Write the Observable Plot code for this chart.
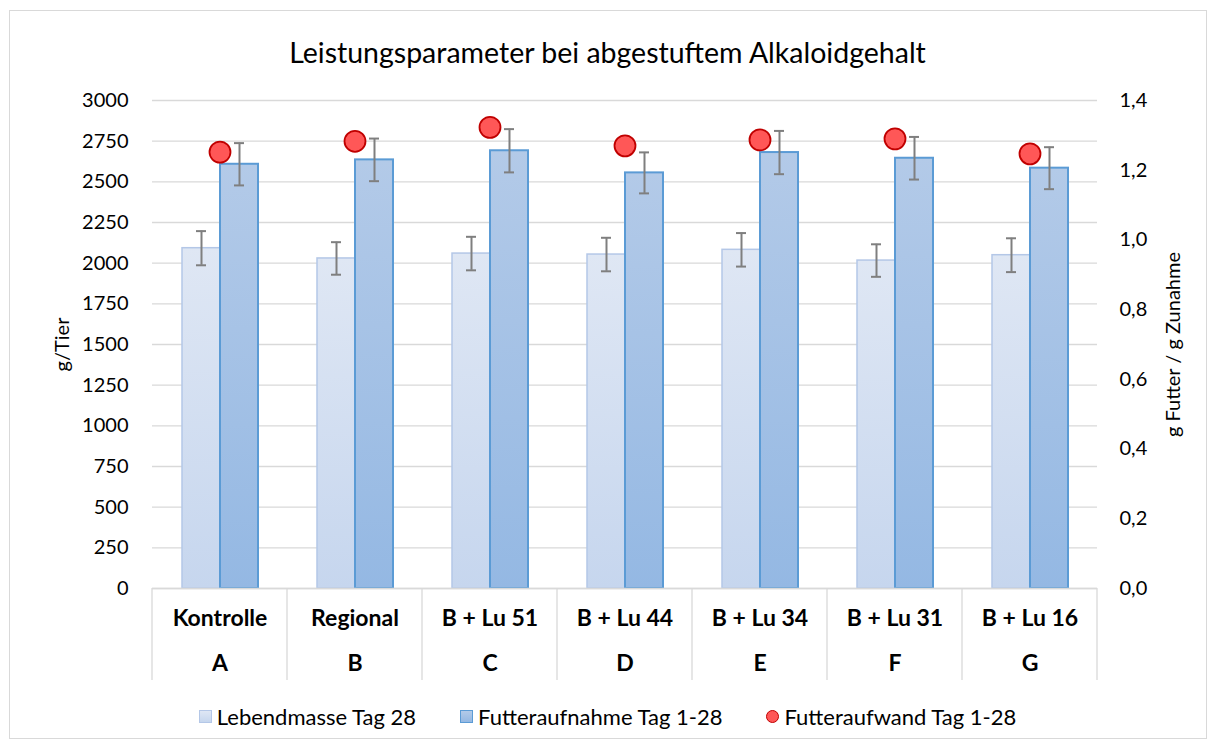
<!DOCTYPE html>
<html><head><meta charset="utf-8">
<script src="https://cdn.jsdelivr.net/npm/d3@7"></script>
<script src="https://cdn.jsdelivr.net/npm/@observablehq/plot@0.6"></script>
<style>
body{margin:0;background:#fff;font-family:Lato,"Noto Sans",sans-serif;color:#000;}
#chart{position:relative;width:1215px;height:747px;overflow:hidden;}
#border{position:absolute;left:9px;top:10px;width:1198px;height:729px;border:1px solid #d9d9d9;box-sizing:border-box;}
#title{position:absolute;left:0;width:1215px;top:35px;text-align:center;font-size:28.5px;line-height:34px;}
#plot{position:absolute;left:0;top:80px;}
#legend{position:absolute;left:0;width:1215px;top:702px;height:28px;display:flex;justify-content:center;align-items:center;gap:44px;font-size:22px;}
.item{display:flex;align-items:center;}
.sw{width:13px;height:13px;margin-right:5px;box-sizing:border-box;}
</style></head>
<body>
<svg width="0" height="0" style="position:absolute">
  <defs>
    <linearGradient id="gradL" x1="0" y1="0" x2="0" y2="1">
      <stop offset="0" stop-color="#dfe7f4"/><stop offset="1" stop-color="#c6d6ee"/>
    </linearGradient>
    <linearGradient id="gradF" x1="0" y1="0" x2="0" y2="1">
      <stop offset="0" stop-color="#b3cae8"/><stop offset="1" stop-color="#94b8e3"/>
    </linearGradient>
  </defs>
</svg>
<div id="chart">
  <div id="border"></div>
  <div id="title">Leistungsparameter bei abgestuftem Alkaloidgehalt</div>
  <div id="plot"></div>
  <div id="legend"></div>
</div>
<script>
const categories = ["Kontrolle","Regional","B + Lu 51","B + Lu 44","B + Lu 34","B + Lu 31","B + Lu 16"];
const groups = ["A","B","C","D","E","F","G"];
const seriesNames = ["Lebendmasse Tag 28","Futteraufnahme Tag 1-28","Futteraufwand Tag 1-28"];
const lebendmasse = [2092, 2029, 2059, 2053, 2082, 2016, 2049];
const lebendmasseErr = [105, 100, 103, 103, 103, 100, 104];
const futteraufnahme = [2608, 2635, 2691, 2555, 2680, 2645, 2584];
const futteraufnahmeErr = [130, 131, 133, 126, 133, 131, 129];
const futteraufwand = [1.252, 1.283, 1.323, 1.270, 1.287, 1.290, 1.247];
const leftTicks = [0, 250, 500, 750, 1000, 1250, 1500, 1750, 2000, 2250, 2500, 2750, 3000];
const rightTicks = [0, 0.2, 0.4, 0.6, 0.8, 1.0, 1.2, 1.4];
const leftMax = 3000, rightMax = 1.4;
const k = leftMax / rightMax;

const bars = categories.flatMap((c, i) => [
  {cat: c, s: "L", value: lebendmasse[i], err: lebendmasseErr[i]},
  {cat: c, s: "F", value: futteraufnahme[i], err: futteraufnahmeErr[i]}
]);
const ratio = categories.map((c, i) => ({cat: c, v: futteraufwand[i] * k}));
const labels = categories.map((c, i) => ({cat: c, g: groups[i]}));

const errStroke = "#7f7f7f";
const plot = Plot.plot({
  width: 1215, height: 610,
  marginTop: 20, marginBottom: 102, marginLeft: 152, marginRight: 118,
  fx: {domain: categories, padding: 0, axis: null},
  x: {domain: ["L", "F"], paddingInner: 0, paddingOuter: 0.753, axis: null},
  y: {domain: [0, leftMax], axis: null},
  style: {fontFamily: "Lato, 'Noto Sans', sans-serif", fontSize: "20px", color: "#000", background: "transparent", overflow: "visible"},
  marks: [
    Plot.gridY(leftTicks, {stroke: "#d9d9d9", strokeOpacity: 1, strokeWidth: 1.3}),
    Plot.axisY({ticks: leftTicks, tickSize: 0, tickPadding: 24, tickFormat: d => String(d), label: "g/Tier", labelAnchor: "center", labelArrow: "none", labelOffset: 98, fontSize: 20, fontWeight: "normal"}),
    Plot.axisY({anchor: "right", ticks: rightTicks.map(v => v * k), tickSize: 0, tickPadding: 22,
      tickFormat: d => (d / k).toFixed(1).replace(".", ","), label: "g Futter / g Zunahme", labelAnchor: "center", labelArrow: "none", labelOffset: 82, fontSize: 20, fontWeight: "normal"}),
    Plot.barY(bars.filter(d => d.s === "L"), {fx: "cat", x: "s", y: "value", fill: "url(#gradL)", stroke: "#b4c7e7", strokeWidth: 1.5}),
    Plot.barY(bars.filter(d => d.s === "F"), {fx: "cat", x: "s", y: "value", fill: "url(#gradF)", stroke: "#5b9bd5", strokeWidth: 2}),
    Plot.ruleY([0], {stroke: "#d9d9d9", strokeWidth: 1.3}),
    Plot.ruleX(bars, {fx: "cat", x: "s", y1: d => d.value - d.err, y2: d => d.value + d.err, stroke: errStroke, strokeWidth: 2}),
    Plot.tickY(bars, {fx: "cat", x: "s", y: d => d.value + d.err, insetLeft: 14, insetRight: 14, stroke: errStroke, strokeWidth: 2}),
    Plot.tickY(bars, {fx: "cat", x: "s", y: d => d.value - d.err, insetLeft: 14, insetRight: 14, stroke: errStroke, strokeWidth: 2}),
    Plot.dot(ratio, {fx: "cat", y: "v", r: 10.5, fill: "#ff5757", stroke: "#c00000", strokeWidth: 1.8}),
    Plot.text(categories, {fx: d => d, text: d => d, frameAnchor: "bottom", lineAnchor: "middle", dy: 30, fontWeight: "bold", fontSize: 23}),
    Plot.text(labels, {fx: "cat", text: "g", frameAnchor: "bottom", lineAnchor: "middle", dy: 75, fontWeight: "bold", fontSize: 23})
  ]
});
document.getElementById("plot").appendChild(plot);

// category dividers drawn from the fx band scale
const fx = plot.scale("fx"), y = plot.scale("y");
const y0 = y.apply(0);
const edges = categories.map(c => fx.apply(c)).concat([fx.apply(categories[categories.length - 1]) + fx.bandwidth]);
d3.select(plot).append("g").selectAll("line").data(edges).join("line")
  .attr("x1", d => d).attr("x2", d => d).attr("y1", y0).attr("y2", y0 + 92)
  .attr("stroke", "#d9d9d9").attr("stroke-width", 1.3);

// legend
const legend = d3.select("#legend");
const sw = [
  {bg: "linear-gradient(#dfe7f4,#c6d6ee)", border: "1.5px solid #b4c7e7", radius: "0"},
  {bg: "linear-gradient(#b3cae8,#94b8e3)", border: "1.5px solid #5b9bd5", radius: "0"},
  {bg: "#ff5757", border: "1.5px solid #c00000", radius: "50%"}
];
seriesNames.forEach((n, i) => {
  const it = legend.append("div").attr("class", "item");
  it.append("div").attr("class", "sw").style("background", sw[i].bg).style("border", sw[i].border).style("border-radius", sw[i].radius);
  it.append("span").text(n);
});
</script>
</body></html>
